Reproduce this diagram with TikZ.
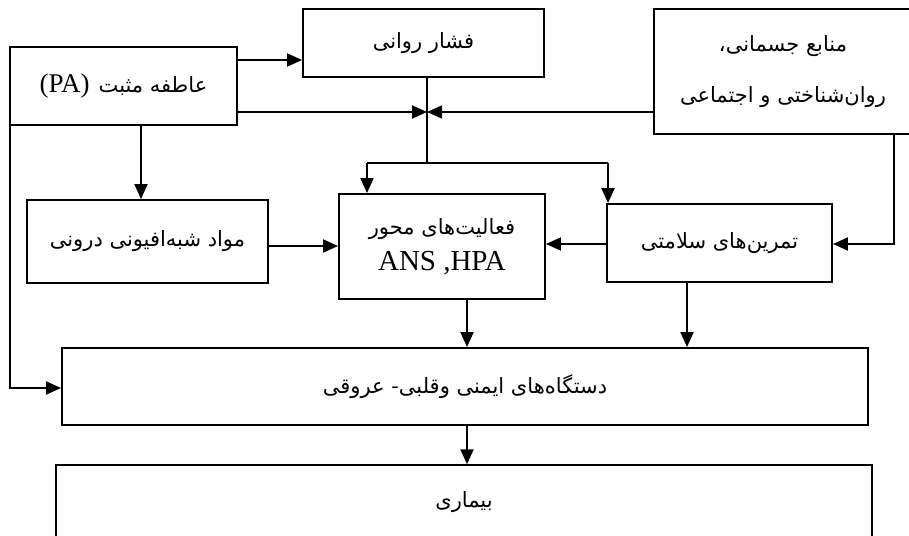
\documentclass[tikz,border=0pt]{standalone}
\usepackage{fontspec}
\usetikzlibrary{arrows.meta}
\TeXXeTstate=1
\newfontfamily\arabicfont[Script=Arabic]{DejaVu Sans}
\newfontfamily\latinfont{Liberation Serif}
\newcommand{\fa}[1]{{\arabicfont\fontsize{21}{25}\selectfont\beginR #1\endR}}
\newcommand{\la}[2][27]{{\latinfont\fontsize{#1}{30}\selectfont #2}}
\begin{document}
\begin{tikzpicture}[x=1pt,y=-1pt,
  box/.style={draw,line width=1.9pt,rectangle,inner sep=0pt,align=center},
  conn/.style={line width=1.9pt,-{Triangle[length=15pt,width=13pt]}},
  plain/.style={line width=1.9pt}]
\path[use as bounding box,clip] (0,0) rectangle (909,535);
% boxes
\node[box,minimum width=227pt,minimum height=78pt] (pa) at (123.5,86)
  {\la{(PA)}\hspace{9pt}\fa{عاطفه مثبت}};
\node[box,minimum width=241pt,minimum height=68pt] (fesh) at (423.5,43)
  {\fa{فشار روانی}};
\node[box,minimum width=258pt,minimum height=125pt] (manabe) at (783,71.5)
  {\fa{منابع جسمانی،}\\[29pt]\fa{روان‌شناختی و اجتماعی}};
\node[box,minimum width=241pt,minimum height=83pt] (mavad) at (147.5,241.5)
  {\fa{مواد شبه‌افیونی درونی}};
\node[box,minimum width=206pt,minimum height=105pt] (ans) at (442,246.5)
  {\fa{فعالیت‌های محور}\\[11pt]\la[29]{ANS ,HPA}};
\node[box,minimum width=225pt,minimum height=78pt] (tamrin) at (719.5,243)
  {\fa{تمرین‌های سلامتی}};
\node[box,minimum width=806pt,minimum height=77pt] (dasgah) at (465,386.5)
  {\fa{دستگاه‌های ایمنی وقلبی- عروقی}};
\node[box,line width=1.5pt,minimum width=816pt,minimum height=75pt] (bimari) at (464,502.5)
  {\fa{بیماری}};
% junction points
\coordinate (J) at (427,112);
\coordinate (S) at (427,163);
\coordinate (SL) at (367,163);
\coordinate (SR) at (608,163);
\coordinate (M) at (894,244);
\coordinate (P) at (10,388);
% connectors
\draw[conn] (pa.east |- 0,60) -- (fesh.west |- 0,60);
\draw[conn] (pa.east |- J) -- (J);
\draw[conn] (manabe.west |- J) -- (J);
\draw[plain] (fesh.south -| J) -- (S);
\draw[plain] (SL) -- (SR);
\draw[conn] (SL) -- (SL |- ans.north);
\draw[conn] (SR) -- (SR |- tamrin.north);
\draw[conn] (pa.south -| 141,0) -- (mavad.north -| 141,0);
\draw[conn] (mavad.east |- 0,246) -- (ans.west |- 0,246);
\draw[conn] (tamrin.west |- 0,244) -- (ans.east |- 0,244);
\draw[conn] (manabe.south -| M) -- (M) -- (tamrin.east |- M);
\draw[conn] (ans.south -| 467,0) -- (dasgah.north -| 467,0);
\draw[conn] (tamrin.south -| 687,0) -- (dasgah.north -| 687,0);
\draw[conn] (pa.south west -| P) -- (P) -- (dasgah.west |- P);
\draw[conn] (dasgah.south -| 467,0) -- (bimari.north -| 467,0);
\end{tikzpicture}
\end{document}
